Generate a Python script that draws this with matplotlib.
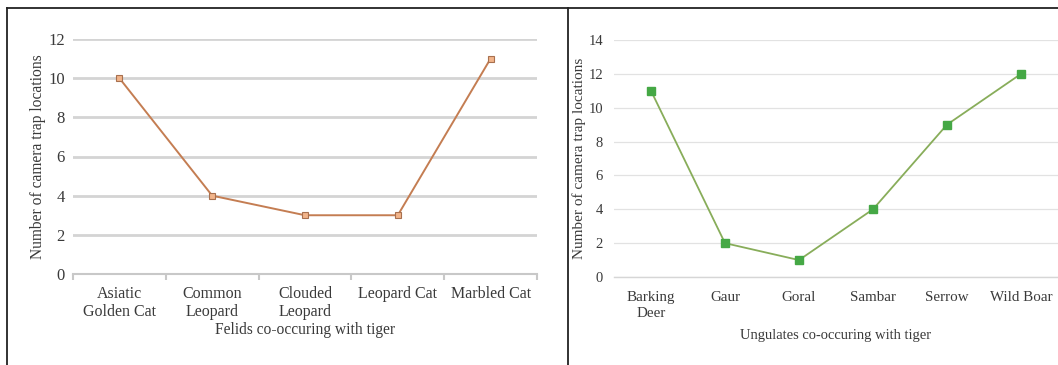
import matplotlib.pyplot as plt
from matplotlib.lines import Line2D

felids = ["Asiatic\nGolden Cat", "Common\nLeopard", "Clouded\nLeopard", "Leopard Cat", "Marbled Cat"]
felid_counts = [10, 4, 3, 3, 11]

ungulates = ["Barking\nDeer", "Gaur", "Goral", "Sambar", "Serrow", "Wild Boar"]
ungulate_counts = [11, 2, 1, 4, 9, 12]

W, H = 1058, 365
plt.rcParams['font.family'] = ['Liberation Serif', 'DejaVu Serif']

fig = plt.figure(figsize=(W / 100, H / 100), dpi=100)

def box(x0, x1, ytop, ybot):
    return [x0 / W, (H - ybot) / H, (x1 - x0) / W, (ybot - ytop) / H]

# table borders
for xs, ys in [([7, 7], [8, H]), ([567.5, 567.5], [8, H]), ([7, W], [8, 8])]:
    fig.add_artist(Line2D([x / W for x in xs], [(H - y) / H for y in ys],
                          color="#222222", lw=1.3))

txt = "#3a3a3a"

# felids
ax1 = fig.add_axes(box(73, 537, 39, 274))
x1 = range(len(felids))
ax1.plot(x1, felid_counts, color="#c47d52", lw=1.4, marker="s", ms=4,
         mfc="#f2b48a", mec="#a8704f", mew=0.8)
ax1.set_xlim(-0.5, len(felids) - 0.5)
ax1.set_ylim(0, 12)
ax1.set_yticks(range(0, 13, 2))
ax1.yaxis.grid(True, color="#d4d4d4", lw=2)
ax1.set_axisbelow(True)
for s in ["top", "right", "left"]:
    ax1.spines[s].set_visible(False)
ax1.spines["bottom"].set_color("#c8c8c8")
ax1.spines["bottom"].set_linewidth(1.5)
ax1.set_xticks(list(x1))
ax1.set_xticklabels(felids, fontsize=11.5, color=txt, linespacing=1.1)
ax1.set_xticks([i + 0.5 for i in range(-1, len(felids))], minor=True)
ax1.tick_params(axis="x", which="major", length=0, pad=9)
ax1.tick_params(axis="x", which="minor", length=4, color="#c8c8c8", width=1.5, direction="out")
ax1.tick_params(axis="y", length=0, labelsize=12, labelcolor=txt, pad=6)
ax1.set_xlabel("Felids co-occuring with tiger", fontsize=11.2, color=txt, labelpad=2)
ax1.set_ylabel("Number of camera trap locations", fontsize=11.2, color=txt)
ax1.yaxis.set_label_coords(-0.058, 0.5)

# ungulates
ax2 = fig.add_axes(box(614, 1058, 40, 277))
x2 = range(len(ungulates))
ax2.plot(x2, ungulate_counts, color="#88ad5a", lw=1.3, marker="s", ms=6,
         mfc="#45a845", mec="#45a845")
ax2.set_xlim(-0.5, len(ungulates) - 0.5)
ax2.set_ylim(0, 14)
ax2.set_yticks(range(0, 15, 2))
ax2.yaxis.grid(True, color="#e2e2e2", lw=0.9)
ax2.set_axisbelow(True)
for s in ["top", "right", "left"]:
    ax2.spines[s].set_visible(False)
ax2.spines["bottom"].set_color("#d6d6d6")
ax2.spines["bottom"].set_linewidth(1.0)
ax2.set_xticks(list(x2))
ax2.set_xticklabels(ungulates, fontsize=10.8, color=txt, linespacing=1.35)
ax2.tick_params(axis="x", length=0, pad=10)
ax2.tick_params(axis="y", length=0, labelsize=10.5, labelcolor=txt, pad=8)
ax2.set_xlabel("Ungulates co-occuring with tiger", fontsize=10.5, color=txt, labelpad=6)
ax2.set_ylabel("Number of camera trap locations", fontsize=11, color=txt)
ax2.yaxis.set_label_coords(-0.063, 0.5)

fig.savefig("out.png", dpi=100, facecolor="white")
